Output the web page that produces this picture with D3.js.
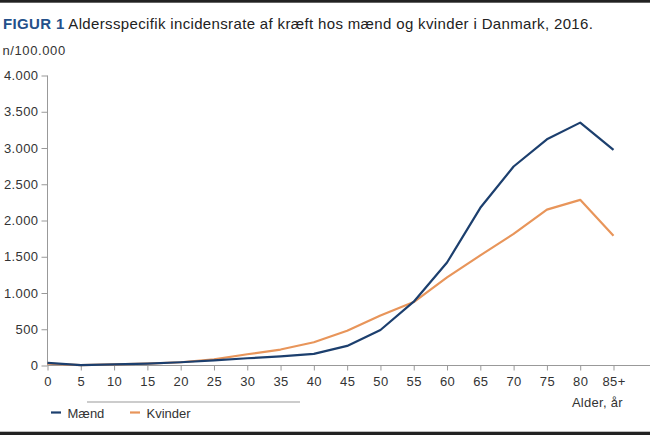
<!DOCTYPE html>
<html><head><meta charset="utf-8">
<script src="https://cdn.jsdelivr.net/npm/d3@7"></script>
<style>
body{margin:0;background:#fff;}
svg{display:block;font-family:"Liberation Sans",Arial,sans-serif;}
</style></head>
<body>
<svg id="c" width="650" height="435"></svg>
<script>
const ages = ["0","5","10","15","20","25","30","35","40","45","50","55","60","65","70","75","80","85+"];
const maend = [35,5,15,25,45,70,100,125,160,270,490,880,1420,2175,2745,3120,3350,2975];
const kvinder = [25,5,15,25,45,85,155,220,320,480,690,875,1215,1520,1815,2150,2285,1790];
const yTicks = [0,500,1000,1500,2000,2500,3000,3500,4000];
const seriesNames = ["Mænd","Kvinder"];
const colors = ["#1c3f6e","#e8955a"];

const svg = d3.select("#c");
const fmt = v => d3.format(",")(v).replace(/,/g,".");
const FF = "Liberation Sans, Arial, sans-serif";

// frame lines
svg.append("rect").attr("x",0).attr("y",0).attr("width",650).attr("height",2.7).attr("fill","#222");
svg.append("rect").attr("x",0).attr("y",431.7).attr("width",650).attr("height",3.3).attr("fill","#222");

// title
const t = svg.append("text").attr("x",3).attr("y",29).attr("font-size",15)
  .attr("letter-spacing",0.35).attr("fill","#222");
t.append("tspan").attr("font-weight","bold").attr("fill","#24508a").text("FIGUR 1");
t.append("tspan").text(" Aldersspecifik incidensrate af kræft hos mænd og kvinder i Danmark, 2016.");

svg.append("text").attr("x",2.5).attr("y",55).attr("font-size",13).attr("letter-spacing",0.6)
  .attr("fill","#333").text("n/100.000");

const x = d3.scalePoint().domain(ages).range([47.5, 613.5]);
const y = d3.scaleLinear().domain([0,4000]).range([365.5, 75.5]);

// y axis
const ya = svg.append("g").attr("transform","translate(47.5,0)")
  .call(d3.axisLeft(y).tickValues(yTicks).tickFormat(fmt).tickSize(6).tickPadding(3));
ya.select(".domain").attr("stroke","#999").attr("d","M0,75.5V365.5");
ya.selectAll(".tick line").attr("stroke","#999");
ya.selectAll(".tick text").attr("font-size",13).attr("letter-spacing",0.4)
  .attr("fill","#333").attr("font-family",FF);

// x axis
const xa = svg.append("g").attr("transform","translate(0,365.5)")
  .call(d3.axisBottom(x).tickSize(5).tickPadding(6));
xa.select(".domain").attr("stroke","#999").attr("d","M47.5,0H650");
xa.selectAll(".tick line").attr("stroke","#999");
xa.selectAll(".tick text").attr("font-size",13).attr("letter-spacing",0.4)
  .attr("fill","#333").attr("font-family",FF);

// lines (women first, men on top)
const line = d3.line().x((d,i)=>x(ages[i])).y(d=>y(d));
[[kvinder,1],[maend,0]].forEach(([s,k])=>{
  svg.append("path").datum(s).attr("d",line).attr("fill","none")
    .attr("stroke",colors[k]).attr("stroke-width",2.2).attr("stroke-linejoin","round");
});

// x title
svg.append("text").attr("x",623).attr("y",406.5).attr("text-anchor","end")
  .attr("font-size",13).attr("letter-spacing",0.3).attr("fill","#333").text("Alder, år");

// separator
svg.append("line").attr("x1",87).attr("x2",300).attr("y1",402).attr("y2",402)
  .attr("stroke","#bbb").attr("stroke-width",1.5);

// legend
const lx = [51,130];
seriesNames.forEach((n,k)=>{
  svg.append("line").attr("x1",lx[k]).attr("x2",lx[k]+10).attr("y1",412.5).attr("y2",412.5)
    .attr("stroke",colors[k]).attr("stroke-width",2.2);
  svg.append("text").attr("x",lx[k]+16.5).attr("y",418).attr("font-size",13).attr("fill","#333").text(n);
});
</script>
</body></html>
